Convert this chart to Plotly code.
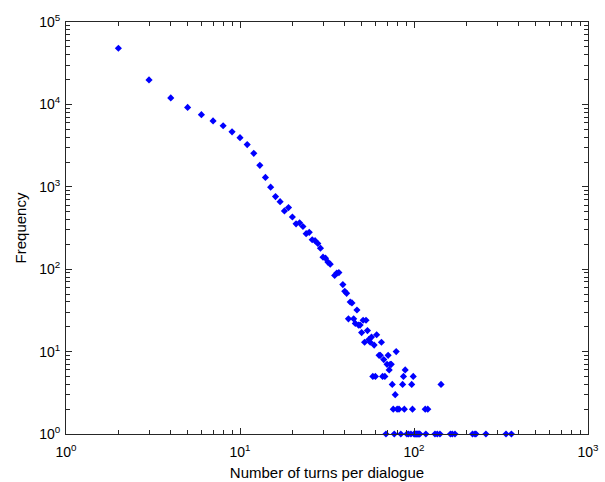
import plotly.graph_objects as go

# Dialogue length (number of turns) and how many dialogues have that length
turns = [
    2, 3, 4, 5, 6, 7, 8, 9, 10, 11, 12, 13, 14, 15, 16, 17, 18, 19, 20,
    21, 22, 23, 24, 25, 26, 27, 28, 29, 30, 31, 32, 33, 35, 36, 37, 39,
    40, 41, 42, 43, 44, 45, 46, 47, 48, 49, 50, 51, 52, 53, 54, 55, 56,
    57, 58, 59, 60, 61, 63, 64, 65, 66, 67, 68, 69, 70, 71, 72, 73, 74,
    75, 76, 77, 78, 79, 80, 82, 84, 86, 87, 88, 89, 91, 93, 96, 97, 98,
    99, 100, 101, 102, 103, 104, 105, 106, 107, 108, 116, 117, 120, 132,
    136, 141, 143, 162, 166, 172, 217, 224, 227, 259, 338, 363,
]
frequency = [
    48000, 19800, 12000, 9200, 7500, 6300, 5500, 4650, 3950, 3250, 2550,
    1820, 1300, 990, 760, 660, 510, 560, 430,
    355, 365, 330, 270, 280, 228, 222, 205, 180, 140, 136, 122, 115, 84,
    90, 91, 65,
    54, 51, 25, 40, 39, 25, 22, 32, 21, 21, 17, 24, 13, 24, 18, 14, 13,
    15, 5, 12, 5, 16, 9, 9, 13, 5, 8, 5, 1, 7, 9, 6, 7, 7,
    4, 2, 1, 3, 10, 2, 2, 1, 4, 5, 2, 6, 1, 1, 1, 4, 2,
    5, 1, 1, 1, 1, 1, 1, 1, 1, 1, 2, 1, 2, 1,
    1, 1, 4, 1, 1, 1, 1, 1, 1, 1, 1, 1,
]

x_ticks = [1, 10, 100, 1000]
x_ticktext = ["10<sup>0</sup>", "10<sup>1</sup>", "10<sup>2</sup>", "10<sup>3</sup>"]
y_ticks = [1, 10, 100, 1000, 10000, 100000]
y_ticktext = ["10<sup>0</sup>", "10<sup>1</sup>", "10<sup>2</sup>",
              "10<sup>3</sup>", "10<sup>4</sup>", "10<sup>5</sup>"]

# minor ticks at 2..9 within each decade
x_minor = [m * 10 ** d for d in range(3) for m in range(2, 10)]
y_minor = [m * 10 ** d for d in range(5) for m in range(2, 10)]

FONT = "Liberation Sans, Arial, sans-serif"
INK = "#000000"
LINE = "#262626"

fig = go.Figure()
fig.add_trace(go.Scatter(
    x=turns, y=frequency, mode="markers",
    marker=dict(symbol="diamond", size=5.5, color="#0000ff", line=dict(width=0)),
    cliponaxis=False,
))

axis_common = dict(
    type="log",
    showgrid=False,
    zeroline=False,
    showline=True,
    linecolor=LINE,
    linewidth=1,
    mirror="allticks",
    ticks="inside",
    ticklen=6,
    tickcolor=LINE,
    tickfont=dict(family=FONT, size=14, color=INK),
    automargin=False,
)

fig.update_xaxes(
    **axis_common,
    range=[0, 3],
    tickmode="array", tickvals=x_ticks, ticktext=x_ticktext,
    ticklabelstandoff=5,
    minor=dict(tickmode="array", tickvals=x_minor, ticks="inside",
               ticklen=4, tickcolor=LINE, showgrid=False),
    title=dict(text="Number of turns per dialogue",
               font=dict(family=FONT, size=15, color=INK), standoff=8),
)
fig.update_yaxes(
    **axis_common,
    range=[0, 5],
    tickmode="array", tickvals=y_ticks, ticktext=y_ticktext,
    ticklabelstandoff=2,
    minor=dict(tickmode="array", tickvals=y_minor, ticks="inside",
               ticklen=4, tickcolor=LINE, showgrid=False),
    title=dict(text="Frequency",
               font=dict(family=FONT, size=15, color=INK), standoff=8),
)

fig.update_layout(
    width=605, height=482,
    margin=dict(l=66, r=17, t=22, b=48),
    paper_bgcolor="white",
    plot_bgcolor="white",
    showlegend=False,
)

fig.write_html("out.html")
